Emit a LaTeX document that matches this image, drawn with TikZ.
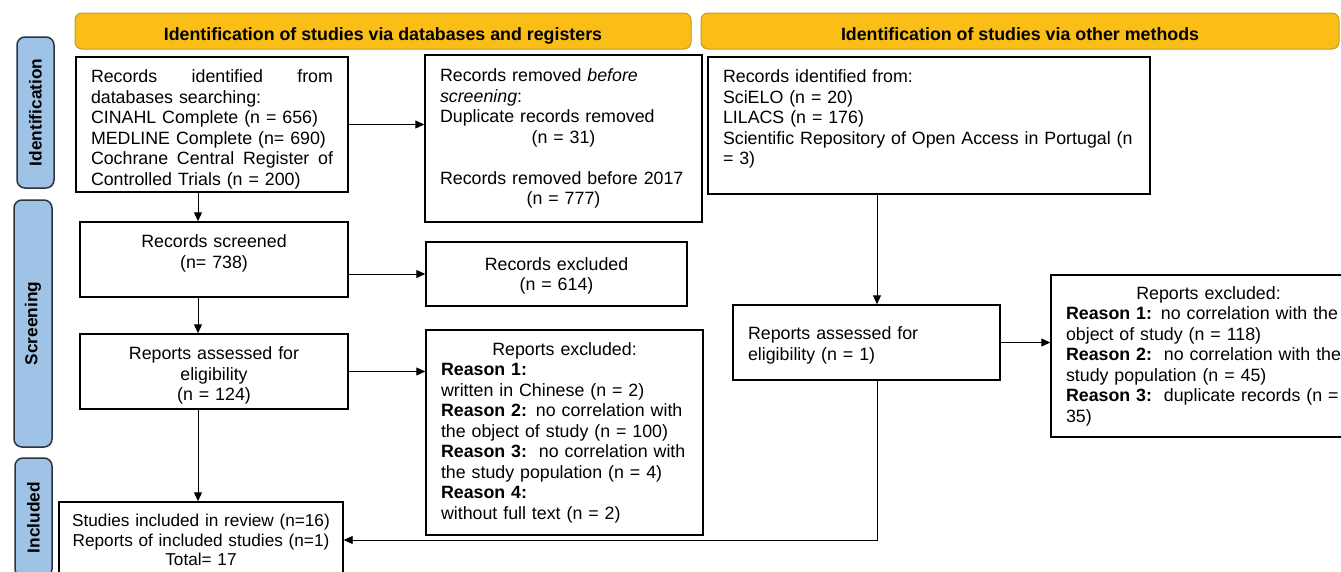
\documentclass[tikz,border=0pt]{standalone}
\usepackage{fontspec}
\setmainfont{Liberation Sans}
\usetikzlibrary{arrows.meta,positioning}
\definecolor{headfill}{RGB}{251,190,22}
\definecolor{headline}{RGB}{196,152,40}
\definecolor{phasefill}{RGB}{158,195,230}
\definecolor{phaseline}{RGB}{45,50,60}
\newcommand{\boxfont}{\fontsize{17.8pt}{20.5pt}\selectfont}
\newcommand{\ctr}[1]{\mbox{}\hfill #1\hfill\mbox{}}
\newcommand{\topsp}[1]{\rule{0pt}{#1}}
\tikzset{
    box/.style={rectangle, draw, line width=1.4pt, inner xsep=15pt, inner ysep=0pt, font=\boxfont, align=left},
    head/.style={rectangle, draw=headline, fill=headfill, rounded corners=7pt, line width=1pt, font=\boxfont\bfseries, inner sep=0pt, text height=18pt, text depth=0pt},
    phase/.style={rectangle, draw=phaseline, fill=phasefill, rounded corners=8pt, line width=1.5pt, rotate=90, font=\fontsize{17.3pt}{20pt}\selectfont\bfseries, inner sep=0pt},
    line/.style={draw, -{Triangle[length=9pt,width=8pt]}, line width=0.9pt}
}
\begin{document}
\begin{tikzpicture}[x=1pt, y=-1pt]
    \useasboundingbox (0,0) rectangle (1341,571);
    \clip (0,0) rectangle (1341,571);

    % column headers
    \node [head, minimum width=616pt, minimum height=36pt] (headdb) at (383,31) {Identification of studies via databases and registers};
    \node [head, minimum width=638pt, minimum height=36pt] (headother) at (1020,31) {Identification of studies via other methods};

    % phases down the left side
    \node [phase, minimum width=151pt, minimum height=37pt] (identification) at (35.5,112.5) {Identification};
    \node [phase, minimum width=247pt, minimum height=38pt] (screening) at (33,323.5) {Screening};
    \node [phase, minimum width=119pt, minimum height=37pt] (included_ph) at (33.5,517.5) {Included};

    % databases and registers
    \node [box, text width=242pt, minimum height=135pt] (rec_db) at (212,124.5) {\topsp{23pt}Records\hfill identified\hfill from\\ databases searching:\\ CINAHL Complete (n = 656)\\ MEDLINE Complete (n= 690)\\ Cochrane\hfill Central\hfill Register\hfill of\\ Controlled Trials (n = 200)};
    \node [box, text width=247pt, minimum height=167pt] (rem_pre) at (563.5,138.5) {Records removed \textit{before}\\ \textit{screening}:\\ Duplicate records removed\\ \ctr{(n = 31)}\\[20.5pt] Records removed before 2017\\ \ctr{(n = 777)}};
    \node [box, align=center, text width=238pt, minimum height=75pt] (screened) at (214,259.5) {\topsp{17pt}Records screened\\ (n= 738)\\ \mbox{}};
    \node [box, align=center, text width=231pt, minimum height=64pt] (excl_rec) at (556.5,274) {\topsp{17pt}Records excluded\\ (n = 614)};
    \node [box, align=center, text width=238pt, minimum height=75pt] (assessed) at (214,371.5) {\topsp{21pt}Reports assessed for\\ eligibility\\ (n = 124)};
    \node [box, text width=247pt, minimum height=205pt] (excl_rep) at (564.5,432.5) {\ctr{Reports excluded:}\\ \textbf{Reason 1:}\\ written in Chinese (n = 2)\\ \textbf{Reason 2:} no correlation with\\ the object of study (n = 100)\\ \textbf{Reason 3:}\ \ no correlation with\\ the study population (n = 4)\\ \textbf{Reason 4:}\\ without full text (n = 2)};
    \node [box, align=center, inner xsep=4pt, text width=276pt, minimum height=76pt, font=\fontsize{17.2pt}{19.5pt}\selectfont] (included) at (201,540) {Studies included in review (n=16)\\ Reports of included studies (n=1)\\ Total= 17};

    % other methods
    \node [box, text width=412pt, minimum height=137pt] (rec_other) at (929,125.5) {\topsp{17pt}Records identified from:\\ SciELO (n = 20)\\ LILACS (n = 176)\\ Scientific Repository of Open Access in Portugal (n\\ = 3)\\ \mbox{}};
    \node [box, text width=237pt, minimum height=75pt] (other_assessed) at (866.5,342.5) {\topsp{19pt}Reports assessed for\\ eligibility (n = 1)};
    \node [box, text width=285pt, minimum height=162pt] (other_excl) at (1208.5,356) {\ctr{Reports excluded:}\\ \textbf{Reason 1:} no correlation with the\\ object of study (n = 118)\\ \textbf{Reason 2:}\ \ no correlation with the\\ study population (n = 45)\\ \textbf{Reason 3:}\ \ duplicate records (n =\\ 35)};

    \coordinate (spine) at (198,0);
    \coordinate (rspine) at (877,0);

    \path [line] (rec_db.east) -- (rec_db.east -| rem_pre.west);
    \path [line] (rec_db.south -| spine) -- (screened.north -| spine);
    \path [line] (screened.east |- excl_rec) -- (excl_rec.west);
    \path [line] (screened.south -| spine) -- (assessed.north -| spine);
    \path [line] (assessed.east) -- (assessed.east -| excl_rep.west);
    \path [line] (assessed.south -| spine) -- (included.north -| spine);
    \path [line] (rec_other.south -| rspine) -- (other_assessed.north -| rspine);
    \path [line] (other_assessed.east) -- (other_assessed.east -| other_excl.west);
    \path [line] (other_assessed.south -| rspine) |- (included.east);
\end{tikzpicture}
\end{document}
